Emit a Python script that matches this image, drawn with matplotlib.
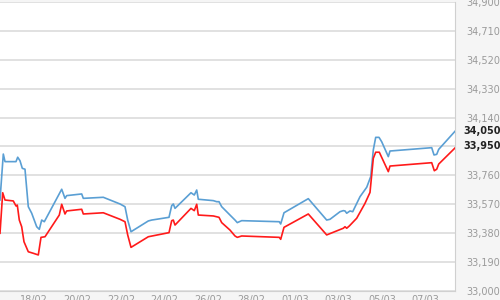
import matplotlib

matplotlib.use("Agg")
import matplotlib.pyplot as plt
from matplotlib.transforms import blended_transform_factory

# day offsets from 18/02 (intraday points) and prices
days = [
    -1.563, -1.411, -1.333, -0.828, -0.749, -0.644, -0.538, -0.414, -0.262, -0.106,
    0.124, 0.244, 0.354, 0.474, 1.274, 1.425, 1.503, 2.193, 2.267, 3.186,
    3.954, 4.184, 4.308, 4.460, 5.255, 5.411, 6.207, 6.331, 6.405, 6.483,
    7.218, 7.370, 7.481, 7.554, 8.244, 8.400, 8.506, 8.630, 9.011, 9.241,
    9.347, 9.549, 11.278, 11.342, 11.494, 12.611, 13.457, 13.609, 14.069, 14.221,
    14.299, 14.377, 14.529, 14.653, 14.989, 15.297, 15.481, 15.600, 15.710, 15.862,
    15.986, 16.290, 16.368, 18.285, 18.391, 18.515, 18.607, 19.356,
]
offer = [
    33597, 33900, 33850, 33850, 33879, 33856, 33806, 33800, 33553, 33510,
    33421, 33404, 33465, 33454, 33668, 33608, 33626, 33637, 33608, 33615,
    33571, 33553, 33465, 33388, 33459, 33465, 33483, 33560, 33571, 33542,
    33645, 33630, 33663, 33602, 33593, 33586, 33586, 33553, 33498, 33465,
    33448, 33461, 33454, 33439, 33513, 33606, 33465, 33470, 33520, 33527,
    33525, 33510, 33525, 33520, 33619, 33681, 33751, 33927, 34010, 34010,
    33981, 33883, 33920, 33942, 33894, 33898, 33931, 34050,
]

bid_days = [
    -1.563, -1.439, -1.333, -0.952, -0.828, -0.768, -0.676, -0.566, -0.460, -0.262,
    -0.032, 0.198, 0.322, 0.506, 1.163, 1.274, 1.425, 1.503, 2.193, 2.267,
    3.186, 3.954, 4.184, 4.308, 4.460, 5.255, 6.207, 6.331, 6.405, 6.483,
    7.218, 7.370, 7.481, 7.554, 8.244, 8.506, 8.630, 9.011, 9.241, 9.347,
    9.549, 11.278, 11.342, 11.494, 12.611, 13.457, 14.221, 14.299, 14.377, 14.497,
    14.837, 15.218, 15.448, 15.600, 15.710, 15.876, 16.290, 16.368, 18.285, 18.405,
    18.515, 18.607, 19.356,
]
bid = [
    33378, 33645, 33597, 33591, 33558, 33564, 33465, 33421, 33322, 33256,
    33246, 33235, 33351, 33355, 33498, 33569, 33505, 33525, 33536, 33505,
    33513, 33470, 33454, 33367, 33285, 33355, 33382, 33461, 33465, 33432,
    33542, 33527, 33569, 33498, 33492, 33483, 33448, 33399, 33360, 33351,
    33360, 33351, 33338, 33417, 33505, 33367, 33411, 33421, 33411, 33426,
    33477, 33575, 33647, 33872, 33912, 33912, 33784, 33821, 33843, 33790,
    33800, 33834, 33940,
]

tick_days = [0, 2, 4, 6, 8, 10, 12, 14, 16, 18]
tick_labels = ["18/02", "20/02", "22/02", "24/02", "26/02",
               "28/02", "01/03", "03/03", "05/03", "07/03"]
y_grid = [33000, 33190, 33380, 33570, 33760, 33950, 34140, 34330, 34520, 34710, 34900]
last_offer_label = "34,050"
last_bid_label = "33,950"

fig = plt.figure(figsize=(5, 3), dpi=100, facecolor="#f5f5f5")
ax = fig.add_axes([0.0, 0.0313, 0.91, 0.961])
ax.set_facecolor("white")

ax.plot(days, offer, color="#5a9fd4", lw=1.2, zorder=3)
ax.plot(bid_days, bid, color="#ff1a1a", lw=1.2, zorder=3)

ax.set_xlim(days[0], days[-1])
ax.set_ylim(33000, 34900)

ax.set_yticks(y_grid)
ax.yaxis.tick_right()
ax.set_yticklabels([f"{v:,}" if v != 33950 else "" for v in y_grid])
ax.tick_params(axis="y", length=0, pad=8, labelsize=7, labelcolor="#9a9a9a")
for lbl in ax.get_yticklabels():
    lbl.set_horizontalalignment("left")

ax.set_xticks(tick_days)
ax.set_xticklabels(tick_labels)
ax.tick_params(axis="x", length=0, pad=3, labelsize=7, labelcolor="#9a9a9a")

ax.grid(axis="y", color="#dcdcdc", lw=1.2)
for side in ("top", "left"):
    ax.spines[side].set_visible(False)
ax.spines["right"].set_color("#d0d0d0")
ax.spines["bottom"].set_color("#d0d0d0")

trans = blended_transform_factory(ax.transAxes, ax.transData)
ax.text(1.0 + 8 / 455, offer[-1], last_offer_label, transform=trans, fontsize=7,
        fontweight="bold", color="#222222", va="center", ha="left")
ax.text(1.0 + 8 / 455, 33950, last_bid_label, transform=trans, fontsize=7,
        fontweight="bold", color="#222222", va="center", ha="left")

fig.savefig("out.png", dpi=100, facecolor=fig.get_facecolor())
